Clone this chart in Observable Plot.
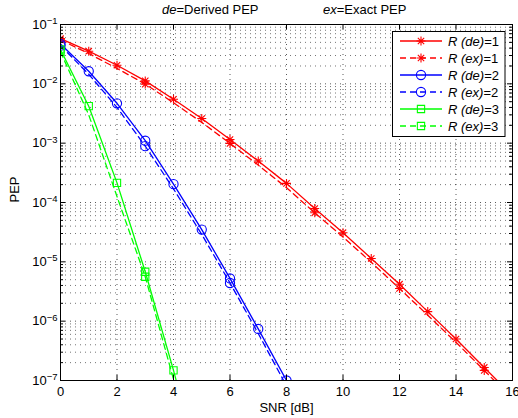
<!DOCTYPE html>
<html><head><meta charset="utf-8">
<script src="https://cdn.jsdelivr.net/npm/d3@7"></script>
<script src="https://cdn.jsdelivr.net/npm/@observablehq/plot@0.6"></script>
<style>
body{margin:0;background:#fff}
svg{font-family:"Liberation Sans",Arial,Helvetica,sans-serif}
</style>
</head><body><div id="chart"></div>
<script>
// ---- data ----
const snr = [0,1,2,3,4,5,6,7,8,9,10,11,12,13,14,15,16];
const r1De = [5.8e-2,3.55e-2,2.06e-2,1.12e-2,5.5e-3,2.6e-3,1.15e-3,5.0e-4,2.1e-4,7.9e-5,3.1e-5,1.14e-5,4.2e-6,1.45e-6,5.0e-7,1.66e-7,5.5e-8];
const r1Ex = [5.5e-2,3.24e-2,1.82e-2,9.9e-3,4.8e-3,2.24e-3,9.9e-4,4.27e-4,1.78e-4,6.7e-5,2.63e-5,9.8e-6,3.55e-6,1.26e-6,4.4e-7,1.48e-7,4.9e-8];
const r2De = [4.7e-2,1.63e-2,4.7e-3,1.1e-3,2.04e-4,3.5e-5,5.25e-6,7.4e-7,1.0e-7,1.26e-8];
const r2Ex = [4.4e-2,1.45e-2,4.0e-3,8.9e-4,1.7e-4,2.9e-5,4.4e-6,6.2e-7,8.1e-8,1.0e-8];
const r3De = [3.8e-2,4.2e-3,2.14e-4,6.8e-6,1.48e-7,2.5e-9];
const r3Ex = [3.47e-2,3.0e-3,1.26e-4,5.6e-6,1.05e-7,1.6e-9];
const exMarkerSnr = [0,3,6,9,12,15];
const legendLabels = [["R (de)","=1"],["R (ex)","=1"],["R (de)","=2"],["R (ex)","=2"],["R (de)","=3"],["R (ex)","=3"]];
const xTicks = [0,2,4,6,8,10,12,14,16];
const yTicks = [1e-7,1e-6,1e-5,1e-4,1e-3,1e-2,1e-1];
const yTickExp = ["−7","−6","−5","−4","−3","−2","−1"];
const minorMult = [2,3,4,5,6,7,8,9];
const yMinor = yTicks.slice(0,-1).flatMap(d => minorMult.map(m => m*d));

// ---- symbols ----
const star = {draw(ctx, size){const r=Math.sqrt(size/Math.PI);const d=r*0.7071;
  ctx.moveTo(-r,0);ctx.lineTo(r,0);ctx.moveTo(0,-r);ctx.lineTo(0,r);
  ctx.moveTo(-d,-d);ctx.lineTo(d,d);ctx.moveTo(-d,d);ctx.lineTo(d,-d);}};
const RED="#ff0000", BLUE="#0000ff", GREEN="#00ff00";
const series = [
  {values:r1De, color:RED, symbol:star, r:4.5, dash:null, ex:false},
  {values:r1Ex, color:RED, symbol:star, r:4.5, dash:"6,4", ex:true},
  {values:r2De, color:BLUE, symbol:"circle", r:4.6, dash:null, ex:false},
  {values:r2Ex, color:BLUE, symbol:"circle", r:4.6, dash:"6,4", ex:true},
  {values:r3De, color:GREEN, symbol:"square", r:4.1, dash:null, ex:false},
  {values:r3Ex, color:GREEN, symbol:"square", r:4.1, dash:"6,4", ex:true},
];

const W=518,H=418,mT=24,mB=38,mL=60,mR=6;
const fw=W-mL-mR, fh=H-mT-mB;
const FS=13;

const marks = [
  Plot.ruleY(yMinor,{stroke:"#000",strokeOpacity:0.55,strokeDasharray:"1,4"}),
  Plot.ruleY(yTicks.slice(1,-1),{stroke:"#000",strokeOpacity:0.65,strokeDasharray:"1,4"}),
  Plot.ruleX(xTicks.slice(1,-1),{stroke:"#000",strokeOpacity:0.65,strokeDasharray:"1,4"}),
];
for (const s of series) {
  const pts = s.values.map((v,i)=>({snr:snr[i], pep:v}));
  marks.push(Plot.line(pts,{x:"snr",y:"pep",stroke:s.color,strokeWidth:1.3,strokeDasharray:s.dash,clip:true}));
  const mp = s.ex ? pts.filter(p=>exMarkerSnr.includes(p.snr)) : pts;
  marks.push(Plot.dot(mp,{x:"snr",y:"pep",stroke:s.color,symbol:()=>s.symbol,r:s.r,strokeWidth:1.1,fill:"none",clip:true}));
}
marks.push(
  // inward ticks on all four sides
  Plot.ruleX(xTicks,{insetTop:fh-5,stroke:"#000"}),
  Plot.ruleX(xTicks,{insetBottom:fh-5,stroke:"#000"}),
  Plot.ruleY(yTicks,{insetRight:fw-5,stroke:"#000"}),
  Plot.ruleY(yTicks,{insetLeft:fw-5,stroke:"#000"}),
  Plot.ruleY(yMinor,{insetRight:fw-3,stroke:"#000"}),
  Plot.ruleY(yMinor,{insetLeft:fw-3,stroke:"#000"}),
  Plot.frame({stroke:"#000",strokeWidth:1}),
  Plot.axisX({ticks:xTicks,tickSize:0,tickPadding:6,label:null,fontSize:FS}),
  Plot.axisY({ticks:yTicks,tickSize:0,tickPadding:3,label:null,fontSize:FS,
     tickFormat:d=>yTickExp[yTicks.indexOf(d)]}),
  Plot.text(["SNR [dB]"],{frameAnchor:"bottom",dy:31,fontSize:FS,fill:"#000"}),
  Plot.text(["PEP"],{frameAnchor:"left",dx:-46,rotate:-90,fontSize:FS,fill:"#000"})
);

const svg = Plot.plot({
  width:W,height:H,marginTop:mT,marginBottom:mB,marginLeft:mL,marginRight:mR,
  style:{background:"#fff",fontFamily:'"Liberation Sans",Arial,sans-serif',fontSize:FS+"px",color:"#000"},
  x:{domain:[0,16]},
  y:{type:"log",domain:[1e-7,1e-1]},
  marks
});
document.getElementById("chart").appendChild(svg);

const NS="http://www.w3.org/2000/svg";
svg.querySelectorAll('g[aria-label="y-axis tick label"] text').forEach(t=>{
  const e=t.textContent; t.textContent="10";
  const ts=document.createElementNS(NS,"tspan");
  ts.setAttribute("dy","-0.5em"); ts.setAttribute("font-size","9.5"); ts.textContent=e;
  t.appendChild(ts);
});

const root = d3.select(svg);
// title
const title = root.append("g").attr("font-size",FS).attr("fill","#000").attr("text-anchor","start");
const t1 = title.append("text").attr("x",162).attr("y",14);
t1.append("tspan").attr("font-style","italic").text("de");
t1.append("tspan").text("=Derived PEP");
const t2 = title.append("text").attr("x",323).attr("y",14);
t2.append("tspan").attr("font-style","italic").text("ex");
t2.append("tspan").text("=Exact PEP");

// legend
const lg = root.append("g").attr("text-anchor","start");
lg.append("rect").attr("x",392.5).attr("y",31.5).attr("width",112.5).attr("height",105)
  .attr("fill","#fff").attr("stroke","#000").attr("stroke-width",1);
series.forEach((s,i)=>{
  const y = 41 + i*17;
  lg.append("line").attr("x1",400).attr("x2",442).attr("y1",y).attr("y2",y)
    .attr("stroke",s.color).attr("stroke-width",1.3).attr("stroke-dasharray",s.dash);
  const sym = s.symbol===star ? star : (s.symbol==="circle"? d3.symbolCircle : d3.symbolSquare);
  lg.append("path").attr("d",d3.symbol(sym, Math.PI*s.r*s.r)()).attr("transform",`translate(421,${y})`)
    .attr("fill","none").attr("stroke",s.color).attr("stroke-width",1.1);
  const tx = lg.append("text").attr("x",448).attr("y",y+4.5).attr("font-size",FS).attr("fill","#000");
  tx.append("tspan").attr("font-style","italic").text(legendLabels[i][0]);
  tx.append("tspan").text(legendLabels[i][1]);
});
</script>
</body></html>
